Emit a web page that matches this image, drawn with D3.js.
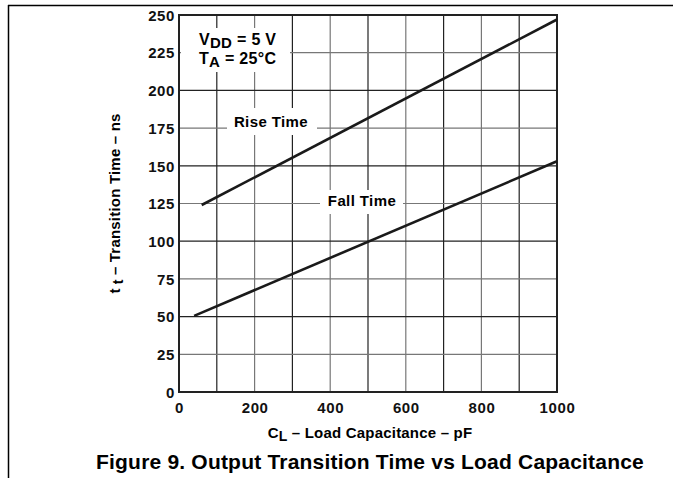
<!DOCTYPE html>
<html><head><meta charset="utf-8">
<script src="https://cdn.jsdelivr.net/npm/d3@7"></script>
<style>body{margin:0;background:#fff}svg{display:block;font-family:"Liberation Sans",Arial,sans-serif;font-weight:bold}</style>
</head><body>
<svg id="c" width="673" height="478"></svg>
<script>
const xTicks = [0, 200, 400, 600, 800, 1000];
const yTicks = [0, 25, 50, 75, 100, 125, 150, 175, 200, 225, 250];
const riseCap = [60, 1000];
const riseTime = [124, 247];
const fallCap = [40, 1000];
const fallTime = [50.5, 153];

const svg = d3.select("#c");
const L = 179, R = 557, T = 15, B = 392;
const x = d3.scaleLinear().domain([0, 1000]).range([L, R]);
const y = d3.scaleLinear().domain([0, 250]).range([B, T]);
const FF = "Liberation Sans, Arial, sans-serif";

// outer frame lines
svg.append("line").attr("x1", 8).attr("x2", 673).attr("y1", 5.5).attr("y2", 5.5).attr("stroke", "#000").attr("stroke-width", 1.5);
svg.append("line").attr("x1", 8.5).attr("x2", 8.5).attr("y1", 5).attr("y2", 478).attr("stroke", "#000").attr("stroke-width", 1.5);

// grid
const g = svg.append("g");
d3.range(100, 1000, 100).forEach((v, i) => {
  g.append("line").attr("x1", x(v)).attr("x2", x(v)).attr("y1", T).attr("y2", B)
    .attr("stroke", i % 2 === 0 ? "#222" : "#777").attr("stroke-width", 1.2);
});
d3.range(25, 250, 25).forEach((v) => {
  g.append("line").attr("x1", L).attr("x2", R).attr("y1", y(v)).attr("y2", y(v))
    .attr("stroke", v % 50 === 0 ? "#222" : "#777").attr("stroke-width", 1.2);
});

// axes
const xa = svg.append("g").attr("transform", `translate(0,${B})`)
  .call(d3.axisBottom(x).tickValues(xTicks).tickSize(0).tickPadding(10).tickFormat(d3.format("d")));
const ya = svg.append("g").attr("transform", `translate(${L},0)`)
  .call(d3.axisLeft(y).tickValues(yTicks).tickSize(0).tickPadding(4).tickFormat(d3.format("d")));
[xa, ya].forEach(a => { a.select(".domain").remove(); a.selectAll("text").attr("font-size", 15).attr("letter-spacing", 0.6).attr("font-family", FF).attr("font-weight", "bold").attr("fill", "#111"); });
ya.selectAll("text").attr("dy", "0.35em");
xa.selectAll("text").attr("dy", "0.72em");

// white label backgrounds (break the grid)
const bg = [[181, 28, 109, 44], [227, 108, 90, 27], [320, 190, 83, 24]];
bg.forEach(b => svg.append("rect").attr("x", b[0]).attr("y", b[1]).attr("width", b[2]).attr("height", b[3]).attr("fill", "#fff"));

// plot frame
svg.append("rect").attr("x", L).attr("y", T).attr("width", R - L).attr("height", B - T)
  .attr("fill", "none").attr("stroke", "#222").attr("stroke-width", 2);

// curves
const line = d3.line().x(d => x(d[0])).y(d => y(d[1]));
svg.append("path").datum(riseCap.map((c, i) => [c, riseTime[i]])).attr("d", line)
  .attr("fill", "none").attr("stroke", "#1a1a1a").attr("stroke-width", 2.6);
svg.append("path").datum(fallCap.map((c, i) => [c, fallTime[i]])).attr("d", line)
  .attr("fill", "none").attr("stroke", "#1a1a1a").attr("stroke-width", 2.6);

// labels
svg.append("text").attr("x", 271).attr("y", 127).attr("text-anchor", "middle").attr("font-size", 15).attr("letter-spacing", 0.4).text("Rise Time");
svg.append("text").attr("x", 362).attr("y", 206).attr("text-anchor", "middle").attr("font-size", 15).attr("letter-spacing", 0.4).text("Fall Time");

const a1 = svg.append("text").attr("x", 199).attr("y", 45).attr("font-size", 16).attr("letter-spacing", 0.3);
a1.append("tspan").text("V");
a1.append("tspan").attr("dy", 3).attr("font-size", 15).text("DD");
a1.append("tspan").attr("dy", -3).text(" = 5 V");
const a2 = svg.append("text").attr("x", 199).attr("y", 64).attr("font-size", 16).attr("letter-spacing", 0.3);
a2.append("tspan").text("T");
a2.append("tspan").attr("dy", 3).attr("font-size", 15).text("A");
a2.append("tspan").attr("dy", -3).text(" = 25°C");

// axis titles
const xt = svg.append("text").attr("x", 370).attr("y", 438).attr("text-anchor", "middle").attr("font-size", 15).attr("letter-spacing", 0.2);
xt.append("tspan").text("C");
xt.append("tspan").attr("dy", 3).attr("font-size", 14).text("L");
xt.append("tspan").attr("dy", -3).text(" – Load Capacitance – pF");

const yt = svg.append("text").attr("transform", `translate(120,${(T + B) / 2}) rotate(-90)`).attr("text-anchor", "middle").attr("font-size", 15).attr("letter-spacing", 0.2);
yt.append("tspan").text("t");
yt.append("tspan").attr("dy", 3).attr("font-size", 14).text(" t");
yt.append("tspan").attr("dy", -3).text(" – Transition Time – ns");

// figure title
svg.append("text").attr("x", 370).attr("y", 469).attr("text-anchor", "middle").attr("font-size", 21).attr("letter-spacing", 0.2).text("Figure 9. Output Transition Time vs Load Capacitance");
</script>
</body></html>
